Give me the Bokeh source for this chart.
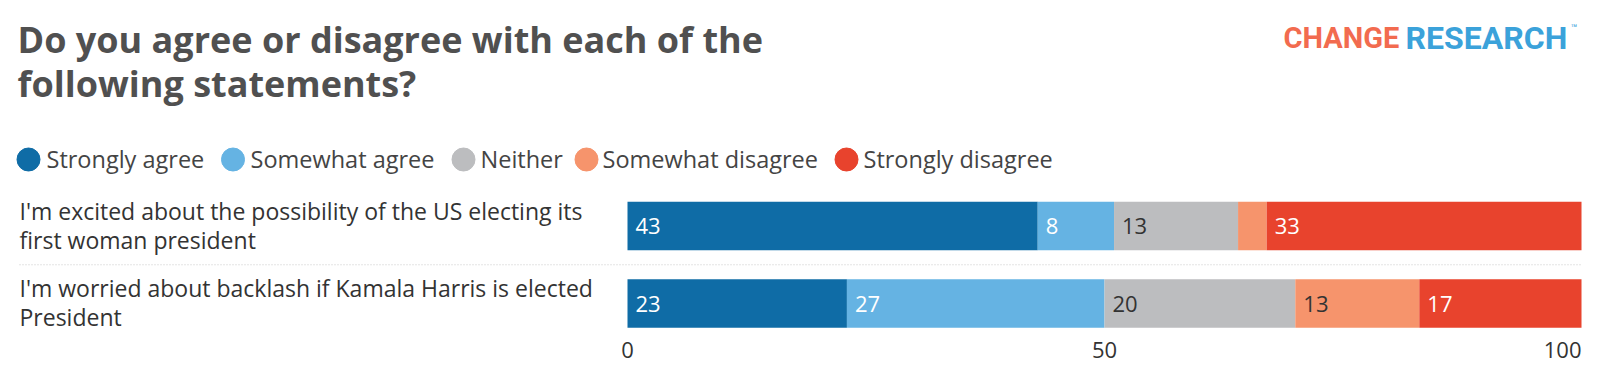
import numpy as np
from bokeh.plotting import figure
from bokeh.models import Range1d, ColumnDataSource
from bokeh.embed import file_html
from bokeh.resources import INLINE
from bokeh.core.properties import value

# ---------------- data ----------------
title_lines = ["Do you agree or disagree with each of the", "following statements?"]
questions = [
    "I'm excited about the possibility of the US electing its first woman president",
    "I'm worried about backlash if Kamala Harris is elected President",
]
question_lines = [
    ["I'm excited about the possibility of the US electing its", "first woman president"],
    ["I'm worried about backlash if Kamala Harris is elected", "President"],
]
series_names = ["Strongly agree", "Somewhat agree", "Neither", "Somewhat disagree", "Strongly disagree"]
strongly_agree = [43, 23]
somewhat_agree = [8, 27]
neither = [13, 20]
somewhat_disagree = [3, 13]
strongly_disagree = [33, 17]
tick_values = [0, 50, 100]
tick_labels = ["0", "50", "100"]

series_values = [strongly_agree, somewhat_agree, neither, somewhat_disagree, strongly_disagree]
series_colors = ["#0f6ca6", "#65b3e3", "#bcbdbf", "#f6946c", "#e8432d"]
label_colors = ["#ffffff", "#ffffff", "#333333", "#333333", "#ffffff"]

# ---------------- layout ----------------
W, H = 1584, 372
X0, X100 = 627, 1581          # pixel position of 0 and 100 on the value scale
ppu = (X100 - X0) / 100.0
ROW0, STEP, BAR_H = 225.5, 77.5, 48.5
FONT = "Open Sans"
TXT = "#333333"

p = figure(width=W, height=H, output_backend="svg", toolbar_location=None,
           x_range=Range1d(-X0 / ppu, (W - X0) / ppu), y_range=Range1d(H, 0),
           x_axis_location=None, y_axis_location=None, min_border=0)
p.extra_x_ranges = {"px": Range1d(0, W)}
p.grid.visible = False
p.outline_line_color = None
p.background_fill_color = "white"
p.border_fill_color = "white"

rows_y = [ROW0 + i * STEP for i in range(len(questions))]

# stacked bars
cum = np.zeros(len(questions))
for name, vals, col, lcol in zip(series_names, series_values, series_colors, label_colors):
    vals = np.array(vals, dtype=float)
    src = ColumnDataSource(dict(
        y=rows_y, left=cum.copy(), right=cum + vals,
        label=[str(int(v)) if v >= 5 else "" for v in vals],
    ))
    p.hbar(y="y", left="left", right="right", height=BAR_H, source=src,
           fill_color=col, line_color=None)
    p.text(x="left", y="y", text="label", source=src, x_offset=8,
           text_baseline="middle", text_align="left", text_font=value(FONT),
           text_font_size="22px", text_color=lcol)
    cum = cum + vals

# row labels
for i, lines in enumerate(question_lines):
    p.text(x=[19] * len(lines), y=[rows_y[i] - 15.5 + 29 * k for k in range(len(lines))],
           text=lines, x_range_name="px", text_baseline="middle", text_align="left",
           text_font=value(FONT), text_font_size="23px", text_color=TXT)

# dotted separators
for i in range(len(questions) - 1):
    ysep = (rows_y[i] + rows_y[i + 1]) / 2
    p.segment(x0=[19], x1=[X100], y0=[ysep], y1=[ysep], x_range_name="px",
              line_color="#c8c8c8", line_width=1, line_dash="1 2")

# value axis tick labels
tsrc = ColumnDataSource(dict(x=tick_values, t=tick_labels,
                             a=["center"] * (len(tick_values) - 1) + ["right"]))
p.text(x="x", y=349, text="t", text_align="a", source=tsrc, text_baseline="middle",
       text_font=value(FONT), text_font_size="22px", text_color=TXT)

# title
p.text(x=[17, 17], y=[38.5, 83], text=title_lines, x_range_name="px",
       text_baseline="middle", text_font=value(FONT), text_font_style="bold",
       text_font_size="36px", text_color="#505050")

# legend
legend_cx = [28, 232.5, 463, 586, 846]
legend_tx = [46, 250, 480, 602, 863]
p.scatter(x=legend_cx, y=[159] * 5, size=23, color=series_colors, x_range_name="px")
p.text(x=legend_tx, y=[158] * 5, text=series_names, x_range_name="px",
       text_baseline="middle", text_font=value(FONT), text_font_size="23.5px",
       text_color="#444444")

# logo
p.text(x=[1283], y=[37.5], text=["CHANGE"], x_range_name="px", text_baseline="middle",
       text_font=value("Roboto"), text_font_style="bold", text_font_size="29px",
       text_color="#f26b4f")
p.text(x=[1405], y=[37.5], text=["RESEARCH"], x_range_name="px", text_baseline="middle",
       text_font=value("Roboto"), text_font_style="bold", text_font_size="32px",
       text_color="#3ba2da")
p.text(x=[1570], y=[28], text=["™"], x_range_name="px", text_baseline="middle",
       text_font=value("Roboto"), text_font_size="11px", text_color="#3ba2da")

open("out.html", "w").write(file_html(p, INLINE))
